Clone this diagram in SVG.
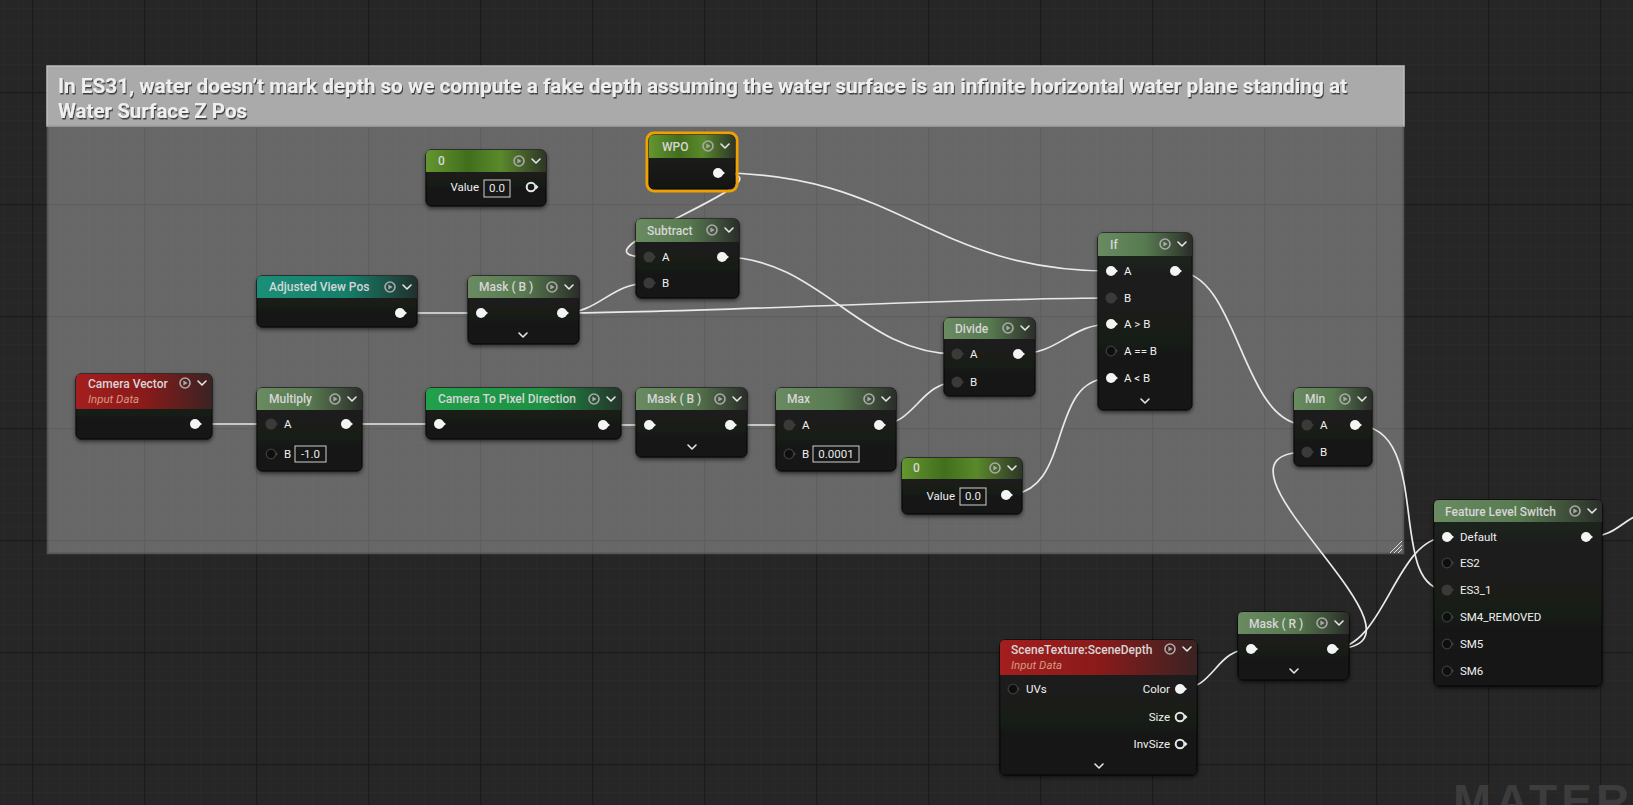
<svg xmlns="http://www.w3.org/2000/svg" width="1633" height="805" viewBox="0 0 1633 805">
<defs>
<style>
.nb{fill:url(#gBody);stroke:#0a0a0a;stroke-width:1}
.t{font-family:Roboto,"Liberation Sans",sans-serif;font-size:12px;font-weight:500;fill:#d6d6d6}
.sub{font-family:Roboto,"Liberation Sans",sans-serif;font-size:11.5px;font-style:italic;fill:#d69a80}
.l{font-family:Roboto,"Liberation Sans",sans-serif;font-size:11.5px;fill:#f0f0f0}
.r{text-anchor:end}
.v{font-family:Roboto,"Liberation Sans",sans-serif;font-size:11.5px;text-anchor:middle;fill:#e8e8e8}
.box{fill:#161716;stroke:#cfcfcf;stroke-width:1}
.w{fill:none;stroke:#e9e9e9;stroke-width:1.7}
.ch{fill:none;stroke:#e6e6e6;stroke-width:1.6;stroke-linecap:round;stroke-linejoin:round}
.ct{font-family:Roboto,"Liberation Sans",sans-serif;font-size:21px;font-weight:700;fill:#efefef}
</style>
<pattern id="gMinor" patternUnits="userSpaceOnUse" x="4" y="8" width="14" height="14">
<path d="M0,0 H14 M0,0 V14" stroke="#2b2b2b" stroke-width="1" fill="none"/>
</pattern>
<pattern id="gMajor" patternUnits="userSpaceOnUse" x="32" y="92" width="112" height="112">
<path d="M0,0.5 H112 M0.5,0 V112" stroke="#1b1b1b" stroke-width="1.5" fill="none"/>
</pattern>
<linearGradient id="gBody" x1="0" y1="0" x2="0" y2="1"><stop offset="0" stop-color="#20221f"/><stop offset="1" stop-color="#141513"/></linearGradient>
<linearGradient id="gMath"><stop offset="0" stop-color="#6a8b62"/><stop offset="0.5" stop-color="#587a50"/><stop offset="0.82" stop-color="#3c4b38"/><stop offset="1" stop-color="#2a2d29"/></linearGradient>
<linearGradient id="gConst"><stop offset="0" stop-color="#64962f"/><stop offset="0.35" stop-color="#426e1d"/><stop offset="0.62" stop-color="#5a892a"/><stop offset="1" stop-color="#2e3628"/></linearGradient>
<linearGradient id="gTeal"><stop offset="0" stop-color="#1a8f78"/><stop offset="0.55" stop-color="#15806b"/><stop offset="1" stop-color="#22302d"/></linearGradient>
<linearGradient id="gGreen"><stop offset="0" stop-color="#22a04c"/><stop offset="0.6" stop-color="#1d9043"/><stop offset="1" stop-color="#24352a"/></linearGradient>
<linearGradient id="gRed"><stop offset="0" stop-color="#a41e1e"/><stop offset="0.5" stop-color="#8a1a1a"/><stop offset="1" stop-color="#3a2323"/></linearGradient>
<filter id="sh" x="-10%" y="-10%" width="130%" height="140%"><feDropShadow dx="0" dy="2" stdDeviation="2" flood-color="#000" flood-opacity="0.6"/></filter>
<filter id="tsh" x="-2%" y="-20%" width="104%" height="160%"><feDropShadow dx="1" dy="1.5" stdDeviation="0.6" flood-color="#333" flood-opacity="0.9"/></filter>
<g id="pW"><circle r="5" fill="#f4f4f4"/><path d="M3,-3.2 L7,0 L3,3.2Z" fill="#f4f4f4"/></g>
<g id="pD"><circle r="5.5" fill="#3a3b39"/><path d="M3.5,-3 L7,0 L3.5,3Z" fill="#3a3b39"/></g>
<g id="pO"><circle r="4.8" fill="#0d0e0d" stroke="#3c3d3b" stroke-width="1.3"/><path d="M4.5,-2.5 L7,0 L4.5,2.5Z" fill="#3c3d3b"/></g>
<g id="pH"><circle r="4.3" fill="none" stroke="#e6e6e6" stroke-width="2"/><path d="M5,-2.5 L7.5,0 L5,2.5Z" fill="#e6e6e6"/></g>
<g id="ico"><circle r="5" fill="none" stroke="#a9a9a9" stroke-width="1.6"/><path d="M-1.6,-2.6 L2.6,0 L-1.6,2.6Z" fill="#a9a9a9"/></g>
<path id="hch" d="M-4,-2 L0,2 L4,-2" class="ch"/>
</defs>

<g id="background">
<rect width="1633" height="805" fill="#262626"/>
<rect width="1633" height="805" fill="url(#gMinor)"/>
<rect width="1633" height="805" fill="url(#gMajor)"/>
</g>

<g id="comment">
<rect x="47" y="126" width="1357" height="428" fill="#ffffff" fill-opacity="0.3"/>
<rect x="47.5" y="126" width="1356" height="427.5" fill="none" stroke="#4a4a4a" stroke-width="2" stroke-opacity="0.6"/>
<rect x="47" y="66" width="1357" height="60" fill="#aaaaaa" stroke="#bdbdbd" stroke-width="1.5"/>
<line x1="47" y1="126" x2="1404" y2="126" stroke="#8a8a8a" stroke-width="1"/>
<g filter="url(#tsh)">
<text class="ct" x="58" y="93" textLength="1289" lengthAdjust="spacingAndGlyphs">In ES31, water doesn’t mark depth so we compute a fake depth assuming the water surface is an infinite horizontal water plane standing at</text>
<text class="ct" x="58" y="118" textLength="189" lengthAdjust="spacingAndGlyphs">Water Surface Z Pos</text>
</g>
<path d="M1390,553 L1402,541 M1394,553 L1402,545 M1398,553 L1402,549" stroke="#dddddd" stroke-width="1" fill="none"/>
</g>

<text x="1453" y="817" font-family="'Liberation Sans',Arial,sans-serif" font-weight="700" font-size="46" letter-spacing="4" fill="#3c3c3c">MATER</text>

<g id="connectors">
<path class="w" d="M195,424 L271,424"/>
<path class="w" d="M346,424 L439,424"/>
<path class="w" d="M603,425 L649,425"/>
<path class="w" d="M730,425 L789,425"/>
<path class="w" d="M879,425 C915,425 920,382 957,382"/>
<path class="w" d="M400,313 L481,313"/>
<path class="w" d="M562,313 C600,313 610,283 649,283"/>
<path class="w" d="M562,313 C700,313 960,298 1111,298"/>
<path class="w" d="M718,173 C900,173 930,271 1111,271"/>
<path class="w" d="M718,173 C815,173 550,257 649,257"/>
<path class="w" d="M722,257 C820,257 860,354 957,354"/>
<path class="w" d="M1018,354 C1060,354 1070,324 1111,324"/>
<path class="w" d="M1006,495 C1075,495 1045,378 1111,378"/>
<path class="w" d="M1175,271 C1240,271 1240,425 1307,425"/>
<path class="w" d="M1332,649 C1460,649 1180,452 1307,452"/>
<path class="w" d="M1332,649 C1385,649 1395,537 1447,537"/>
<path class="w" d="M1355,425 C1435,425 1385,590 1447,590"/>
<path class="w" d="M1180,689 C1215,689 1215,649 1251,649"/>
<path class="w" d="M1586,537 C1615,537 1620,522 1640,514"/>
</g>

<g id="node-const0-top">
<rect class="nb" x="426" y="150" width="120" height="56" rx="5" filter="url(#sh)"/>
<path d="M426,172 V155 Q426,150 431,150 H541 Q546,150 546,155 V172 Z" fill="url(#gConst)"/>
<text class="t" x="438" y="165">0</text>
<use href="#ico" x="519" y="161"/><use href="#hch" x="536" y="161"/>
<text class="l r" x="479" y="191">Value</text>
<rect class="box" x="484" y="180" width="26" height="17"/>
<text class="v" x="497" y="192">0.0</text>
<use href="#pH" x="531" y="187"/>
</g>

<g id="node-wpo">
<rect x="647" y="133" width="90" height="58" rx="7" fill="none" stroke="#f0a000" stroke-width="3"/>
<rect class="nb" x="649" y="135" width="86" height="54" rx="5"/>
<path d="M649,158 V140 Q649,135 654,135 H730 Q735,135 735,140 V158 Z" fill="url(#gConst)"/>
<text class="t" x="662" y="151">WPO</text>
<use href="#ico" x="708" y="146"/><use href="#hch" x="725" y="146"/>
<use href="#pW" x="718" y="173"/>
</g>

<g id="node-adjusted-view-pos">
<rect class="nb" x="257" y="276" width="160" height="51" rx="5" filter="url(#sh)"/>
<path d="M257,298 V281 Q257,276 262,276 H412 Q417,276 417,281 V298 Z" fill="url(#gTeal)"/>
<text class="t" x="269" y="291">Adjusted View Pos</text>
<use href="#ico" x="390" y="287"/><use href="#hch" x="407" y="287"/>
<use href="#pW" x="400" y="313"/>
</g>

<g id="node-mask-b1">
<rect class="nb" x="468" y="276" width="111" height="68" rx="5" filter="url(#sh)"/>
<path d="M468,298 V281 Q468,276 473,276 H574 Q579,276 579,281 V298 Z" fill="url(#gMath)"/>
<text class="t" x="479" y="291">Mask ( B )</text>
<use href="#ico" x="552" y="287"/><use href="#hch" x="569" y="287"/>
<use href="#pW" x="481" y="313"/><use href="#pW" x="562" y="313"/>
<use href="#hch" x="523" y="335"/>
</g>

<g id="node-subtract">
<rect class="nb" x="636" y="219" width="103" height="79" rx="5" filter="url(#sh)"/>
<path d="M636,242 V224 Q636,219 641,219 H734 Q739,219 739,224 V242 Z" fill="url(#gMath)"/>
<text class="t" x="647" y="235">Subtract</text>
<use href="#ico" x="712" y="230"/><use href="#hch" x="729" y="230"/>
<use href="#pD" x="649" y="257"/><text class="l" x="662" y="261">A</text>
<use href="#pD" x="649" y="283"/><text class="l" x="662" y="287">B</text>
<use href="#pW" x="722" y="257"/>
</g>

<g id="node-divide">
<rect class="nb" x="944" y="318" width="91" height="78" rx="5" filter="url(#sh)"/>
<path d="M944,339 V323 Q944,318 949,318 H1030 Q1035,318 1035,323 V339 Z" fill="url(#gMath)"/>
<text class="t" x="955" y="333">Divide</text>
<use href="#ico" x="1008" y="328"/><use href="#hch" x="1025" y="328"/>
<use href="#pD" x="957" y="354"/><text class="l" x="970" y="358">A</text>
<use href="#pD" x="957" y="382"/><text class="l" x="970" y="386">B</text>
<use href="#pW" x="1018" y="354"/>
</g>

<g id="node-if">
<rect class="nb" x="1098" y="233" width="94" height="177" rx="5" filter="url(#sh)"/>
<path d="M1098,256 V238 Q1098,233 1103,233 H1187 Q1192,233 1192,238 V256 Z" fill="url(#gMath)"/>
<text class="t" x="1110" y="249">If</text>
<use href="#ico" x="1165" y="244"/><use href="#hch" x="1182" y="244"/>
<use href="#pW" x="1111" y="271"/><text class="l" x="1124" y="275">A</text>
<use href="#pD" x="1111" y="298"/><text class="l" x="1124" y="302">B</text>
<use href="#pW" x="1111" y="324"/><text class="l" x="1124" y="328">A &gt; B</text>
<use href="#pO" x="1111" y="351"/><text class="l" x="1124" y="355">A == B</text>
<use href="#pW" x="1111" y="378"/><text class="l" x="1124" y="382">A &lt; B</text>
<use href="#pW" x="1175" y="271"/>
<use href="#hch" x="1145" y="401"/>
</g>

<g id="node-min">
<rect class="nb" x="1294" y="388" width="78" height="78" rx="5" filter="url(#sh)"/>
<path d="M1294,410 V393 Q1294,388 1299,388 H1367 Q1372,388 1372,393 V410 Z" fill="url(#gMath)"/>
<text class="t" x="1305" y="403">Min</text>
<use href="#ico" x="1345" y="399"/><use href="#hch" x="1362" y="399"/>
<use href="#pD" x="1307" y="425"/><text class="l" x="1320" y="429">A</text>
<use href="#pD" x="1307" y="452"/><text class="l" x="1320" y="456">B</text>
<use href="#pW" x="1355" y="425"/>
</g>

<g id="node-camera-vector">
<rect class="nb" x="76" y="374" width="136" height="65" rx="5" filter="url(#sh)"/>
<path d="M76,409 V379 Q76,374 81,374 H207 Q212,374 212,379 V409 Z" fill="url(#gRed)"/>
<text class="t" x="88" y="388">Camera Vector</text>
<text class="sub" x="88" y="403">Input Data</text>
<use href="#ico" x="185" y="383"/><use href="#hch" x="202" y="383"/>
<use href="#pW" x="195" y="424"/>
</g>

<g id="node-multiply">
<rect class="nb" x="257" y="388" width="105" height="83" rx="5" filter="url(#sh)"/>
<path d="M257,410 V393 Q257,388 262,388 H357 Q362,388 362,393 V410 Z" fill="url(#gMath)"/>
<text class="t" x="269" y="403">Multiply</text>
<use href="#ico" x="335" y="399"/><use href="#hch" x="352" y="399"/>
<use href="#pD" x="271" y="424"/><text class="l" x="284" y="428">A</text>
<use href="#pO" x="271" y="454"/><text class="l" x="284" y="458">B</text>
<rect class="box" x="295" y="446" width="31" height="16"/>
<text class="v" x="310.5" y="458">-1.0</text>
<use href="#pW" x="346" y="424"/>
</g>

<g id="node-camera-to-pixel">
<rect class="nb" x="426" y="388" width="195" height="51" rx="5" filter="url(#sh)"/>
<path d="M426,410 V393 Q426,388 431,388 H616 Q621,388 621,393 V410 Z" fill="url(#gGreen)"/>
<text class="t" x="438" y="403">Camera To Pixel Direction</text>
<use href="#ico" x="594" y="399"/><use href="#hch" x="611" y="399"/>
<use href="#pW" x="439" y="424"/><use href="#pW" x="603" y="425"/>
</g>

<g id="node-mask-b2">
<rect class="nb" x="636" y="388" width="111" height="69" rx="5" filter="url(#sh)"/>
<path d="M636,410 V393 Q636,388 641,388 H742 Q747,388 747,393 V410 Z" fill="url(#gMath)"/>
<text class="t" x="647" y="403">Mask ( B )</text>
<use href="#ico" x="720" y="399"/><use href="#hch" x="737" y="399"/>
<use href="#pW" x="649" y="425"/><use href="#pW" x="730" y="425"/>
<use href="#hch" x="692" y="447"/>
</g>

<g id="node-max">
<rect class="nb" x="776" y="388" width="120" height="83" rx="5" filter="url(#sh)"/>
<path d="M776,410 V393 Q776,388 781,388 H891 Q896,388 896,393 V410 Z" fill="url(#gMath)"/>
<text class="t" x="787" y="403">Max</text>
<use href="#ico" x="869" y="399"/><use href="#hch" x="886" y="399"/>
<use href="#pD" x="789" y="425"/><text class="l" x="802" y="429">A</text>
<use href="#pO" x="789" y="454"/><text class="l" x="802" y="458">B</text>
<rect class="box" x="813" y="446" width="46" height="16"/>
<text class="v" x="836" y="458">0.0001</text>
<use href="#pW" x="879" y="425"/>
</g>

<g id="node-const0-bottom">
<rect class="nb" x="902" y="458" width="120" height="56" rx="5" filter="url(#sh)"/>
<path d="M902,479 V463 Q902,458 907,458 H1017 Q1022,458 1022,463 V479 Z" fill="url(#gConst)"/>
<text class="t" x="913" y="472">0</text>
<use href="#ico" x="995" y="468"/><use href="#hch" x="1012" y="468"/>
<text class="l r" x="955" y="500">Value</text>
<rect class="box" x="960" y="488" width="26" height="17"/>
<text class="v" x="973" y="500">0.0</text>
<use href="#pW" x="1006" y="495"/>
</g>

<g id="node-scenetexture">
<rect class="nb" x="1000" y="640" width="197" height="135" rx="5" filter="url(#sh)"/>
<path d="M1000,675 V645 Q1000,640 1005,640 H1192 Q1197,640 1197,645 V675 Z" fill="url(#gRed)"/>
<text class="t" x="1011" y="654">SceneTexture:SceneDepth</text>
<text class="sub" x="1011" y="669">Input Data</text>
<use href="#ico" x="1170" y="649"/><use href="#hch" x="1187" y="649"/>
<use href="#pO" x="1013" y="689"/><text class="l" x="1026" y="693">UVs</text>
<text class="l r" x="1170" y="693">Color</text><use href="#pW" x="1180" y="689"/>
<text class="l r" x="1170" y="721">Size</text><use href="#pH" x="1180" y="717"/>
<text class="l r" x="1170" y="748">InvSize</text><use href="#pH" x="1180" y="744"/>
<use href="#hch" x="1099" y="766"/>
</g>

<g id="node-mask-r">
<rect class="nb" x="1238" y="612" width="111" height="68" rx="5" filter="url(#sh)"/>
<path d="M1238,634 V617 Q1238,612 1243,612 H1344 Q1349,612 1349,617 V634 Z" fill="url(#gMath)"/>
<text class="t" x="1249" y="628">Mask ( R )</text>
<use href="#ico" x="1322" y="623"/><use href="#hch" x="1339" y="623"/>
<use href="#pW" x="1251" y="649"/><use href="#pW" x="1332" y="649"/>
<use href="#hch" x="1294" y="671"/>
</g>

<g id="node-feature-level-switch">
<rect class="nb" x="1434" y="500" width="168" height="186" rx="5" filter="url(#sh)"/>
<path d="M1434,522 V505 Q1434,500 1439,500 H1597 Q1602,500 1602,505 V522 Z" fill="url(#gMath)"/>
<text class="t" x="1445" y="516">Feature Level Switch</text>
<use href="#ico" x="1575" y="511"/><use href="#hch" x="1592" y="511"/>
<use href="#pW" x="1447" y="537"/><text class="l" x="1460" y="541">Default</text>
<use href="#pO" x="1447" y="563"/><text class="l" x="1460" y="567">ES2</text>
<use href="#pD" x="1447" y="590"/><text class="l" x="1460" y="594">ES3_1</text>
<use href="#pO" x="1447" y="617"/><text class="l" x="1460" y="621">SM4_REMOVED</text>
<use href="#pO" x="1447" y="644"/><text class="l" x="1460" y="648">SM5</text>
<use href="#pO" x="1447" y="671"/><text class="l" x="1460" y="675">SM6</text>
<use href="#pW" x="1586" y="537"/>
</g>
</svg>
